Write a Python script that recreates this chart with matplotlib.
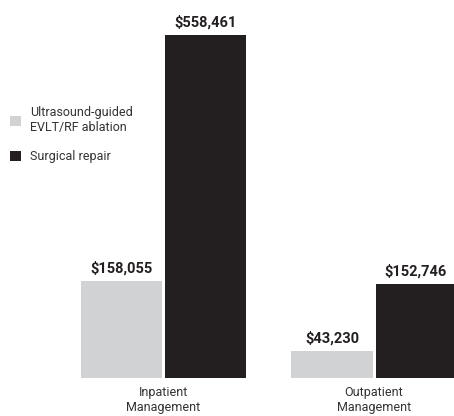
import matplotlib as mpl
mpl.use('Agg')
import matplotlib.pyplot as plt
import numpy as np

groups = ['Inpatient\nManagement', 'Outpatient\nManagement']
series = ['Ultrasound-guided\nEVLT/RF ablation', 'Surgical repair']
ablation = [158055, 43230]
surgical = [558461, 152746]
colors = ['#d1d2d4', '#231f20']

plt.rcParams['font.family'] = ['Roboto', 'DejaVu Sans']

fig = plt.figure(figsize=(4.54, 4.16), dpi=100)
ax = fig.add_axes([0, 0.0913, 1, 0.8245])

x = np.arange(len(groups))
w = 0.385
gap = 0.0071
b1 = ax.bar(x - w / 2 - gap, ablation, w, color=colors[0], label=series[0])
b2 = ax.bar(x + w / 2 + gap, surgical, w, color=colors[1], label=series[1])

for bars in (b1, b2):
    for r in bars:
        ax.annotate('${:,}'.format(int(r.get_height())),
                    (r.get_x() + r.get_width() / 2, r.get_height()),
                    xytext=(0, 4), textcoords='offset points',
                    ha='center', va='bottom', fontsize=10.5,
                    fontweight='bold', color='#231f20')

ax.set_xlim(-0.777, 1.380)
ax.set_ylim(0, 558461)
ax.set_xticks(x)
ax.set_xticklabels(groups, fontsize=9, color='#333333', linespacing=1.15)
ax.tick_params(axis='x', length=0, pad=6)
ax.set_yticks([])
for s in ax.spines.values():
    s.set_visible(False)

fig.legend(loc='upper left', bbox_to_anchor=(0.022, 0.745), frameon=False,
           borderpad=0, borderaxespad=0,
           fontsize=9, handlelength=0.85, handleheight=0.85,
           handletextpad=0.75, labelspacing=1.3, labelcolor='#333333')

fig.savefig('out.png', dpi=100)
